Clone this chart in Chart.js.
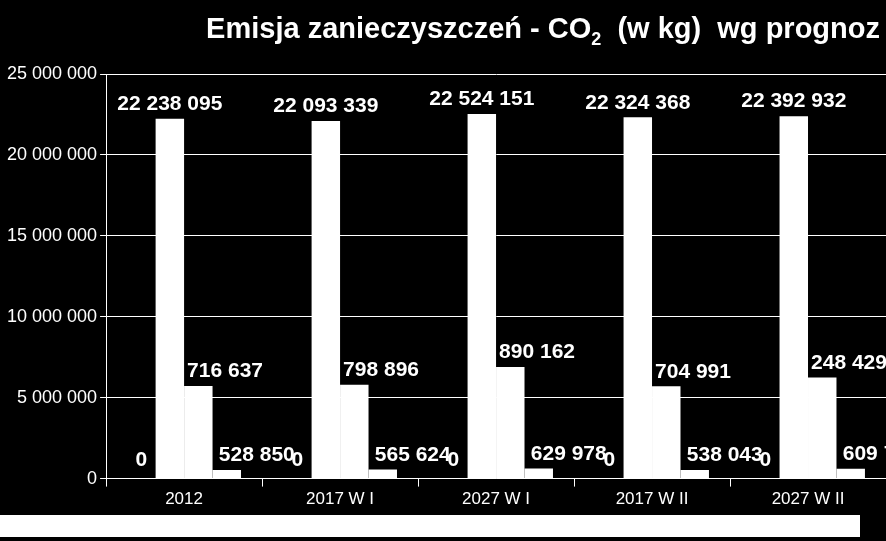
<!DOCTYPE html>
<html><head><meta charset="utf-8">
<script src="https://cdn.jsdelivr.net/npm/chart.js@4/dist/chart.umd.min.js"></script>
<style>html,body{margin:0;background:#000;}#w{position:relative;width:886px;height:541px;background:#000;}
#band{position:absolute;left:0;top:515px;width:860px;height:22px;background:#fff;}
#t{position:absolute;right:6px;top:12px;color:#fff;font:bold 29px "Liberation Sans",Arial,sans-serif;white-space:pre;}
</style></head><body>
<div id="w"><canvas id="c" width="886" height="541"></canvas><div id="t">Emisja zanieczyszczeń - CO<sub style="font-size:18px">2</sub>  (w kg)  wg prognoz</div><div id="band"></div></div>
<script>
const categories=["2012","2017 W I","2027 W I","2017 W II","2027 W II"];
const s1=[0,0,0,0,0];
const s2=[22238095,22093339,22524151,22324368,22392932];
const s3=[5716637,5798896,6890162,5704991,6248429];
const s4=[528850,565624,629978,538043,609785];
const yTicks=[0,5000000,10000000,15000000,20000000,25000000];
const fmt=v=>String(v).replace(/\B(?=(\d{3})+(?!\d))/g,' ');
const offs=[0,0,18,30];
const lbl={id:'lbl',afterDatasetsDraw(ch){const c=ch.ctx;c.save();c.fillStyle='#fff';c.font='bold 21px "Liberation Sans",Arial,sans-serif';c.textAlign='center';c.textBaseline='bottom';
ch.data.datasets.forEach((d,i)=>{ch.getDatasetMeta(i).data.forEach((b,j)=>{c.fillText(fmt(d.data[j]),b.x+offs[i],b.y-(i==0?8:4));});});c.restore();}};
new Chart(document.getElementById('c'),{type:'bar',
data:{labels:categories,datasets:[s1,s2,s3,s4].map(d=>({data:d,backgroundColor:'#fff',borderWidth:0,barPercentage:1,categoryPercentage:0.73}))},
plugins:[lbl],
options:{responsive:false,animation:false,layout:{padding:{top:74,right:0,left:4,bottom:28}},
plugins:{legend:{display:false},tooltip:{enabled:false}},
scales:{x:{grid:{color:'#fff',drawOnChartArea:false,tickLength:8},border:{color:'#fff'},ticks:{color:'#fff',font:{size:17,family:'Liberation Sans'}}},
y:{min:0,max:25000000,afterBuildTicks:a=>{a.ticks=yTicks.map(v=>({value:v}));},grid:{color:'#fff',drawTicks:true,tickLength:6},border:{color:'#fff'},ticks:{color:'#fff',font:{size:18,family:'Liberation Sans'},callback:v=>fmt(v)}}}}});
</script></body></html>
